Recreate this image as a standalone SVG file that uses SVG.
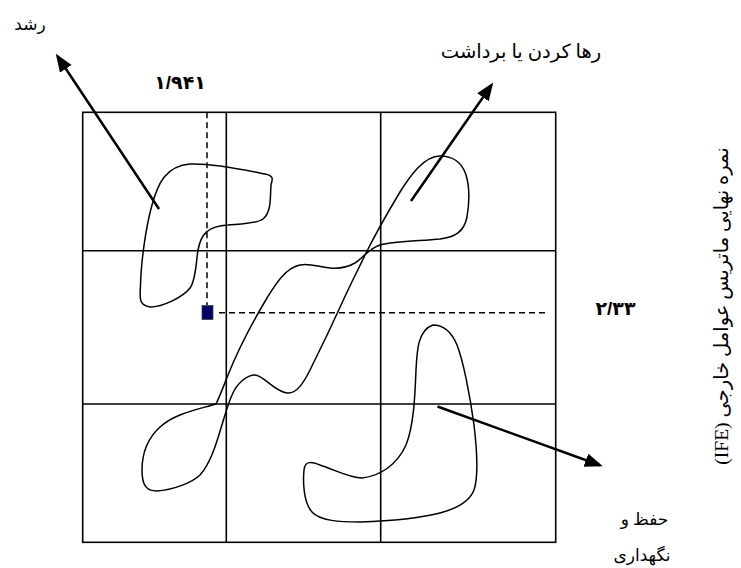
<svg xmlns="http://www.w3.org/2000/svg" width="741" height="568" viewBox="0 0 741 568">
<style>
.grid{fill:none;stroke:#000;stroke-width:1.6}
.blob{fill:none;stroke:#000;stroke-width:1.5}
.dash{fill:none;stroke:#000;stroke-width:1.5;stroke-dasharray:6 4}
.arrow{fill:none;stroke:#000;stroke-width:2.5;marker-end:url(#ah)}
.t{font-family:'Liberation Serif','DejaVu Sans',serif;font-size:17px;fill:#000;text-anchor:middle;direction:rtl}
.l{font-size:19.5px}
.b{font-family:'Liberation Sans','DejaVu Sans',sans-serif;font-weight:bold;font-size:19px;fill:#000;text-anchor:middle}
</style>
<defs>
<marker id="ah" markerUnits="userSpaceOnUse" markerWidth="20" markerHeight="16" refX="15" refY="7" orient="auto">
<path d="M0,0 L18,7 L0,14 Z" fill="#000"/>
</marker>
</defs>
<rect width="741" height="568" fill="#fff"/>
<g id="matrix">
<rect class="grid" x="82.7" y="112.3" width="473" height="430"/>
<line class="grid" x1="226.3" y1="112.3" x2="226.3" y2="542.3"/>
<line class="grid" x1="380.7" y1="112.3" x2="380.7" y2="542.3"/>
<line class="grid" x1="82.7" y1="250.7" x2="555.7" y2="250.7"/>
<line class="grid" x1="82.7" y1="404" x2="555.7" y2="404"/>
</g>
<g id="blob-growth">
<path class="blob" d="M150,307 C138,305 140,297 140.5,285 C141,265 145,230 152,205 C158,183 166,166 190,164 C215,163 245,170 265,174 C275,176 272,180 271,185 C270,195 272,212 263,219 C256,224 240,224 228,225 C208,226 201,234 198,250 C196,262 196,280 190,288 C183,297 163,307 150,307 Z"/>
</g>
<g id="blob-harvest">
<path class="blob" d="M440,156 C452,156 462,162 466,175 C470,188 469,205 467,217 C464,232 455,237 440,239 C420,241 395,241 380,245 C368,249 363,258 355,263 C348,267 340,269 330,268 C318,267 310,263 300,265 C285,268 275,285 267,298 C255,318 238,350 228,375 C224,385 220,396 216,404 C200,409 175,413 160,427 C148,438 142,452 142,470 C142,485 146,491 157,491 C172,490 192,483 200,475 C210,464 216,445 221,428 C225,415 228,404 232,395 C237,383 247,375 255,375 C263,375 275,392 287,393 C297,394 304,382 310,370 C320,350 332,325 342,303 C350,285 358,270 366,253 C376,233 388,212 400,192 C410,176 424,156 440,156 Z"/>
</g>
<g id="blob-hold">
<path class="blob" d="M433,325 C445,325 452,333 457,345 C463,360 470,395 474,425 C477,450 479,475 474,490 C469,503 455,509 440,513 C420,518 390,521 360,522 C340,522 320,521 312,512 C303,502 303,480 304,470 C305,460 312,462 320,465 C335,470 350,478 362,478 C380,476 397,465 406,445 C414,425 415,395 416,370 C417,350 418,330 433,325 Z"/>
</g>
<g id="score-point">
<line class="dash" x1="207" y1="112.3" x2="207" y2="305"/>
<line class="dash" x1="219" y1="312.7" x2="549" y2="312.7"/>
<rect x="202" y="305.5" width="11" height="14" fill="#000066" stroke="#444" stroke-width="0.8"/>
</g>
<g id="connectors">
<line class="arrow" x1="159" y1="209" x2="57.5" y2="56.3"/>
<line class="arrow" x1="411" y1="201" x2="491.5" y2="85"/>
<line class="arrow" x1="437.5" y1="406.5" x2="600" y2="465.3"/>
</g>
<g id="labels">
<text class="t" x="30" y="30">رشد</text>
<text class="t l" x="521" y="58">رها کردن یا برداشت</text>
<text class="b" x="180" y="89">۱/۹۴۱</text>
<text class="b" x="615.5" y="315">۲/۳۳</text>
<text class="t" x="644.5" y="525">حفظ و</text>
<text class="t" x="642" y="561">نگهداری</text>
<text class="t l" transform="translate(728,306) rotate(-90)">نمره نهایی ماتریس عوامل خارجی (IFE)</text>
</g>
</svg>
